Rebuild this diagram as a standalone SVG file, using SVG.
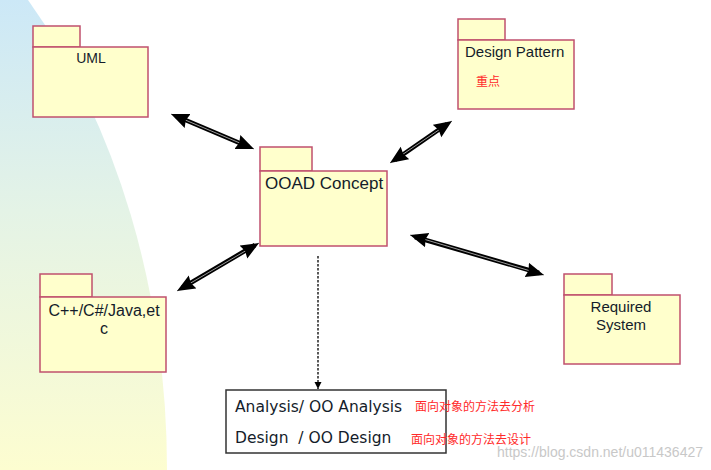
<svg xmlns="http://www.w3.org/2000/svg" width="711" height="470" viewBox="0 0 711 470">
<defs>
<linearGradient id="bg" x1="0" y1="0" x2="0" y2="1">
<stop offset="0" stop-color="#cce8f7"/>
<stop offset="0.45" stop-color="#e4f3e6"/>
<stop offset="1" stop-color="#fdfdd0"/>
</linearGradient>
<marker id="head" markerUnits="userSpaceOnUse" markerWidth="19" markerHeight="16" refX="18" refY="7.5" orient="auto-start-reverse" viewBox="0 0 19 15">
<path d="M0,0 L18,7.5 L0,15 L2,7.5 Z" fill="#000"/>
</marker>
<marker id="small" markerUnits="userSpaceOnUse" markerWidth="8" markerHeight="8" refX="7" refY="3.5" orient="auto" viewBox="0 0 8 7">
<path d="M0,0 L7,3.5 L0,7 Z" fill="#000"/>
</marker>
</defs>
<style>
.pkg{fill:#ffffcc;stroke:#c0506e;stroke-width:1.5}
.lbl{font-family:"Liberation Sans",Arial,sans-serif;fill:#141c2a}
.cn{font-family:"Noto Sans CJK SC",sans-serif;fill:#ff2a2a}
.shaft{stroke:#000;stroke-width:4.5;fill:none}
.inner{stroke:#9a9a9a;stroke-width:1;fill:none;marker-start:url(#head);marker-end:url(#head)}
.box{font-family:"DejaVu Sans",Tahoma,sans-serif;font-size:15.5px;fill:#141c2a;white-space:pre}
</style>
<path d="M0,0 L28,0 A467,660 0 0 1 167,470 L0,470 Z" fill="url(#bg)"/>

<g id="connectors">
<line class="shaft" x1="176" y1="116" x2="249" y2="147"/>
<line class="inner" x1="171" y1="114" x2="254" y2="149"/>
<line class="shaft" x1="447" y1="124" x2="395" y2="160"/>
<line class="inner" x1="452" y1="121" x2="390" y2="163"/>
<line class="shaft" x1="415" y1="237" x2="539" y2="273"/>
<line class="inner" x1="410" y1="235" x2="544" y2="275"/>
<line class="shaft" x1="255" y1="245" x2="182" y2="288"/>
<line class="inner" x1="259" y1="243" x2="177" y2="291"/>
<line x1="318" y1="256" x2="318" y2="389" stroke="#000" stroke-width="1.3" stroke-dasharray="2.5,1.5" marker-end="url(#small)"/>
</g>

<g id="uml">
<rect class="pkg" x="33" y="26" width="47" height="21"/>
<rect class="pkg" x="33" y="47" width="115" height="70"/>
<text class="lbl" x="91" y="63" font-size="14" text-anchor="middle">UML</text>
</g>

<g id="design-pattern">
<rect class="pkg" x="458" y="19" width="47" height="21"/>
<rect class="pkg" x="458" y="40" width="116" height="69"/>
<text class="lbl" x="465" y="57" font-size="15">Design Pattern</text>
<text class="cn" x="476" y="86" font-size="12">重点</text>
</g>

<g id="ooad">
<rect class="pkg" x="260" y="147" width="52" height="24"/>
<rect class="pkg" x="260" y="171" width="127" height="75"/>
<text class="lbl" x="265" y="189" font-size="17">OOAD Concept</text>
</g>

<g id="languages">
<rect class="pkg" x="40" y="274" width="52" height="23"/>
<rect class="pkg" x="40" y="297" width="126" height="75"/>
<text class="lbl" x="104" y="316" font-size="16" text-anchor="middle">C++/C#/Java,et</text>
<text class="lbl" x="104" y="334" font-size="16" text-anchor="middle">c</text>
</g>

<g id="required-system">
<rect class="pkg" x="564" y="274" width="48" height="21"/>
<rect class="pkg" x="564" y="295" width="116" height="69"/>
<text class="lbl" x="621" y="312" font-size="15" text-anchor="middle">Required</text>
<text class="lbl" x="621" y="330" font-size="15" text-anchor="middle">System</text>
</g>

<g id="ooa-ood">
<rect x="226" y="390" width="220" height="63" fill="#fff" stroke="#333" stroke-width="1.5"/>
<text class="box" x="235" y="412">Analysis/ OO Analysis</text>
<text class="box" x="235" y="443">Design  / OO Design</text>
<text class="cn" x="415" y="411" font-size="12">面向对象的方法去分析</text>
<text class="cn" x="411" y="444" font-size="12">面向对象的方法去设计</text>
</g>

<text x="703" y="457" font-family="Liberation Sans,Arial,sans-serif" font-size="14" fill="#c8c8c8" text-anchor="end">https://blog.csdn.net/u011436427</text>
</svg>
